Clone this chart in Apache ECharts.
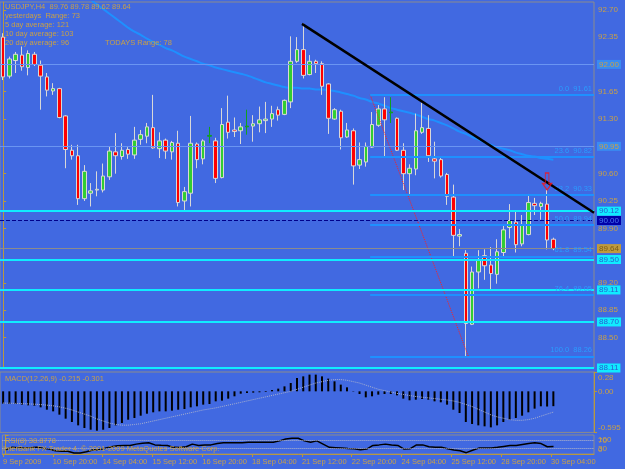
<!DOCTYPE html>
<html>
<head>
<meta charset="utf-8">
<script src="https://cdn.jsdelivr.net/npm/echarts@6.0.0/dist/echarts.min.js"></script>
<style>
  html, body { margin: 0; padding: 0; background: #4169e1; }
  #chart { width: 625px; height: 469px; }
</style>
</head>
<body>
<div id="chart"></div>
<script>
// USDJPY H4 - bar 0 = 9 Sep 2009 00:00, bar 88 = 30 Sep 04:00
const open = [92.35,91.85,92.05,92.12,91.96,92.13,91.99,91.84,91.66,91.69,
  91.34,90.90,90.83,90.28,90.35,90.39,90.39,90.56,90.88,90.82,
  90.91,90.84,91.04,91.08,91.19,90.92,91.03,90.88,90.99,90.25,
  90.35,90.98,90.79,91.08,91.02,90.55,91.26,91.16,91.15,91.20,
  91.21,91.24,91.28,91.30,91.42,91.36,91.52,92.04,92.19,91.87,
  92.04,92.01,91.75,91.30,91.40,91.07,91.15,90.71,90.75,90.94,
  91.22,91.43,91.38,91.31,90.90,90.60,90.66,91.13,91.18,90.79,
  90.78,90.59,90.30,89.80,89.58,88.67,89.34,89.55,89.43,89.31,
  89.59,89.91,89.98,89.70,89.82,90.22,90.18,90.21,89.76];
const high = [92.40,92.10,92.16,92.23,92.18,92.16,92.05,91.89,91.76,91.70,
  91.35,90.97,90.97,90.71,90.48,90.63,90.73,90.95,91.12,90.99,
  90.94,91.20,91.16,91.25,91.61,91.13,91.05,91.02,91.15,90.43,
  91.34,91.00,91.04,91.20,91.06,91.44,91.60,91.32,91.25,91.42,
  91.35,91.46,91.52,91.47,91.46,91.55,92.36,92.35,92.53,92.12,
  92.06,92.04,91.76,91.44,91.42,91.25,91.18,91.00,91.00,91.39,
  91.48,91.58,91.58,91.32,90.99,90.72,91.37,91.51,91.35,91.01,
  90.80,90.61,90.46,89.89,89.62,89.41,89.62,89.63,89.66,89.76,
  89.94,90.21,90.11,90.07,90.34,90.29,90.24,90.39,89.78];
const low = [91.80,91.82,91.89,91.92,91.86,91.98,91.42,91.59,91.61,91.31,
  90.67,90.78,90.20,90.25,90.18,90.31,90.36,90.52,90.60,90.78,
  90.79,90.79,90.97,90.99,90.92,90.80,90.79,90.78,90.18,90.12,
  90.18,90.67,90.72,90.99,90.48,90.54,91.05,91.07,90.98,91.10,
  91.01,91.13,91.12,91.20,91.28,91.35,91.44,92.02,91.82,91.86,
  91.89,91.61,91.11,91.29,90.91,91.06,90.46,90.66,90.69,90.93,
  91.20,90.82,91.25,90.89,90.39,90.34,90.58,91.11,90.75,90.54,
  90.55,90.20,89.54,89.67,88.26,88.66,89.13,89.24,89.11,89.19,
  89.54,89.77,89.59,89.67,89.81,90.07,90.01,89.63,89.62];
const close = [91.84,92.07,92.13,91.97,92.14,92.00,91.85,91.67,91.69,91.32,
  90.91,90.83,90.28,90.63,90.38,90.40,90.57,90.89,90.83,90.90,
  90.85,91.03,91.10,91.20,90.93,91.02,90.89,91.00,90.23,90.37,
  90.99,90.78,91.02,91.09,90.54,91.23,91.13,91.14,91.20,91.21,
  91.24,91.29,91.30,91.37,91.35,91.54,92.04,92.19,91.86,92.04,
  92.01,91.72,91.31,91.42,91.06,91.16,90.70,90.78,90.95,91.23,
  91.43,91.29,91.39,90.90,90.60,90.67,91.15,91.19,90.83,90.76,
  90.57,90.31,89.81,89.82,88.68,89.34,89.49,89.42,89.32,89.60,
  89.88,90.00,89.69,89.95,90.23,90.19,90.22,89.75,89.64];
// bars drawn as a bare green line in the terminal
const lineBars = [33, 39, 62];

// moving average, starts above the window at bar 13
const ma = ['-','-','-','-','-','-','-','-','-','-','-','-','-',
  92.90,92.83,92.77,92.71,92.65,92.59,92.53,92.47,92.42,92.38,
  92.33,92.29,92.25,92.21,92.18,92.14,92.10,92.07,92.04,92.01,
  91.99,91.96,91.94,91.92,91.90,91.88,91.86,91.83,91.80,91.77,
  91.75,91.73,91.71,91.70,91.70,91.69,91.69,91.68,91.68,91.67,
  91.66,91.64,91.62,91.60,91.57,91.55,91.52,91.50,91.47,91.44,
  91.42,91.40,91.38,91.36,91.33,91.30,91.28,91.25,91.22,91.18,
  91.14,91.11,91.07,91.04,91.00,90.97,90.94,90.92,90.90,90.87,
  90.85,90.83,90.82,90.80,90.79,90.78];

const macd = [-0.179,-0.184,-0.184,-0.193,-0.203,-0.208,-0.232,-0.266,-0.290,-0.338,
  -0.396,-0.444,-0.493,-0.531,-0.556,-0.570,-0.556,-0.531,-0.493,-0.459,
  -0.411,-0.386,-0.353,-0.324,-0.304,-0.290,-0.290,-0.280,-0.266,-0.256,
  -0.232,-0.217,-0.193,-0.184,-0.145,-0.135,-0.106,-0.072,-0.034,-0.024,
  -0.019,-0.014,-0.010,0.019,0.039,0.072,0.121,0.193,0.217,0.242,
  0.242,0.217,0.184,0.145,0.097,0.058,-0.005,-0.039,-0.087,-0.072,
  -0.048,-0.039,-0.039,-0.058,-0.106,-0.130,-0.121,-0.111,-0.121,-0.145,
  -0.159,-0.193,-0.266,-0.314,-0.444,-0.473,-0.493,-0.507,-0.522,-0.493,
  -0.444,-0.411,-0.386,-0.353,-0.304,-0.251,-0.217,-0.220,-0.215];
const signal = [-0.170,-0.172,-0.175,-0.178,-0.182,-0.186,-0.192,-0.200,-0.210,-0.225,
  -0.245,-0.270,-0.300,-0.330,-0.360,-0.400,-0.430,-0.460,-0.480,-0.490,
  -0.490,-0.480,-0.470,-0.450,-0.430,-0.410,-0.390,-0.370,-0.350,-0.330,
  -0.310,-0.290,-0.270,-0.255,-0.240,-0.220,-0.200,-0.180,-0.160,-0.140,
  -0.120,-0.100,-0.080,-0.060,-0.040,-0.020,0.000,0.030,0.060,0.090,
  0.120,0.140,0.160,0.170,0.170,0.160,0.140,0.120,0.090,0.060,
  0.030,0.010,-0.010,-0.030,-0.045,-0.060,-0.075,-0.085,-0.095,-0.105,
  -0.115,-0.125,-0.140,-0.160,-0.190,-0.220,-0.260,-0.300,-0.340,-0.370,
  -0.390,-0.410,-0.420,-0.420,-0.410,-0.390,-0.360,-0.330,-0.301];
const rsi = [22,35,33,31,33,35,30,26,17,15,
  14,5,5,12,21,24,30,38,43,45,
  45,52,57,59,48,46,45,35,34,38,
  52,45,47,48,55,59,59,59,59,62,
  62,62,62,62,69,79,83,83,69,62,
  69,52,35,33,31,29,28,22,26,45,
  48,52,47,45,26,28,48,48,38,36,
  35,28,21,17,7,20,31,31,31,35,
  40,45,45,50,55,59,55,38,38.9];

// price scale and levels
const priceTicks = [92.70,92.35,92.00,91.65,91.30,90.95,90.60,90.25,89.90,89.20,88.85,88.50];
const cyanLevels = [90.12, 89.50, 89.11, 88.70, 88.11];
const dayLevels = [92.00, 90.95];
const pivotLevel = 90.00;
const bidPrice = 89.64;
const fibLevels = [91.61, 90.82, 90.33, 89.94, 89.54, 89.05, 88.26];
const fibNames = ['0.0', '23.6', '38.2', '50.0', '61.8', '76.4', '100.0'];
const fibStart = 58.7;
const trendLine = [[47.8, 92.52], [94.5, 90.10]];
const fibDiagonal = [[58.7, 91.61], [74.4, 88.26]];
const arrowMark = [[87, 90.50]];
const rsiRange = [100, 0];
const rsiLevels = [70, 30];

const timeLabels = ['9 Sep 2009','10 Sep 20:00','14 Sep 04:00','15 Sep 12:00','16 Sep 20:00','18 Sep 04:00',
  '21 Sep 12:00','22 Sep 20:00','24 Sep 04:00','25 Sep 12:00','28 Sep 20:00','30 Sep 04:00'];
const timeBars = [0, 8, 16, 24, 32, 40, 48, 56, 64, 72, 80, 88];

const nSlots = 95;
const slots = Array.from({ length: nSlots }, (_, i) => i);

const gold = '#c8a048';
const axisGold = '#b8983e';
const cyan = '#10ecff';
const font = 'Liberation Sans';

const candleData = open.map((o, i) => {
  const item = { value: [o, close[i], low[i], high[i]] };
  if (lineBars.includes(i)) {
    item.itemStyle = { color: '#10a020', color0: '#10a020', borderColor: '#10a020', borderColor0: '#10a020' };
  }
  return item;
});

const chart = echarts.init(document.getElementById('chart'));

const gridBase = { left: 0, right: 31, show: true, borderColor: '#8c8c8c', borderWidth: 1 };
const rightAxis = {
  position: 'right',
  axisLine: { show: true, lineStyle: { color: axisGold, width: 1 } },
  axisTick: { show: true, length: 3, lineStyle: { color: axisGold } },
  splitLine: { show: false },
  axisLabel: { color: gold, fontSize: 8, fontFamily: font, margin: 4, hideOverlap: false }
};

chart.setOption({
  animation: false,
  backgroundColor: '#4169e1',
  grid: [
    Object.assign({ top: 2, height: 366 }, gridBase),
    Object.assign({ top: 372, height: 60.4 }, gridBase),
    Object.assign({ top: 435, height: 19 }, gridBase)
  ],
  xAxis: [
    { type: 'category', gridIndex: 0, data: slots, show: false, boundaryGap: true },
    { type: 'value', gridIndex: 0, min: -0.5, max: nSlots - 0.5, show: false },
    { type: 'category', gridIndex: 1, data: slots, show: false, boundaryGap: true },
    {
      type: 'value', gridIndex: 2, min: -0.5, max: nSlots - 0.5,
      axisLine: { show: true, lineStyle: { color: axisGold } },
      axisTick: { show: true, length: 3, lineStyle: { color: axisGold }, customValues: timeBars.map(b => b - 0.4) },
      splitLine: { show: false },
      axisLabel: {
        customValues: timeBars.map(b => b - 0.4),
        formatter: v => timeLabels[timeBars.indexOf(Math.round(v + 0.4))] || '',
        color: gold, fontSize: 7.5, fontFamily: font, align: 'left', margin: 4
      }
    }
  ],
  yAxis: [
    Object.assign({}, rightAxis, {
      type: 'value', gridIndex: 0, min: 88.11, max: 92.80, scale: true,
      axisTick: Object.assign({}, rightAxis.axisTick, { customValues: priceTicks }),
      axisLabel: Object.assign({}, rightAxis.axisLabel, { customValues: priceTicks, formatter: v => v.toFixed(2) })
    }),
    Object.assign({}, rightAxis, {
      type: 'value', gridIndex: 1, min: -0.595, max: 0.28,
      axisTick: Object.assign({}, rightAxis.axisTick, { customValues: [0.28, 0, -0.595] }),
      axisLabel: Object.assign({}, rightAxis.axisLabel, {
        customValues: [0.28, 0, -0.595],
        formatter: v => v > 0.1 ? '{t|0.28}' : (v < -0.1 ? '{b|-0.595}' : '0.00'),
        rich: {
          t: { padding: [12, 0, 0, 0], color: gold, fontSize: 8, fontFamily: font },
          b: { padding: [0, 0, 9, 0], color: gold, fontSize: 8, fontFamily: font }
        }
      })
    }),
    Object.assign({}, rightAxis, {
      type: 'value', gridIndex: 2, min: 0, max: 100,
      axisTick: Object.assign({}, rightAxis.axisTick, { customValues: rsiRange.concat(rsiLevels) }),
      axisLabel: Object.assign({}, rightAxis.axisLabel, {
        customValues: rsiRange,
        showMinLabel: true, showMaxLabel: true,
        formatter: v => v === 100 ? '{t|100}' : '{b|0}',
        rich: {
          t: { padding: [9, 0, 0, 0], color: gold, fontSize: 8, fontFamily: font },
          b: { padding: [0, 0, 8, 0], color: gold, fontSize: 8, fontFamily: font }
        }
      })
    })
  ],
  series: [
    {
      name: 'MA', type: 'line', xAxisIndex: 0, yAxisIndex: 0, data: ma,
      symbol: 'none', smooth: true, z: 2,
      lineStyle: { color: '#1e90ff', width: 2 }
    },
    {
      name: 'USDJPY', type: 'candlestick', xAxisIndex: 0, yAxisIndex: 0, data: candleData,
      barWidth: 4, z: 3,
      itemStyle: {
        color: '#32cd32', color0: '#ff0000',
        borderColor: '#d8d8d8', borderColor0: '#d8d8d8', borderColorDoji: '#d8d8d8',
        borderWidth: 1
      }
    },
    {
      name: 'levels', type: 'line', xAxisIndex: 1, yAxisIndex: 0, data: [], z: 4,
      markLine: {
        silent: true, symbol: 'none',
        label: {
          position: 'end', distance: 3, fontSize: 8, fontFamily: font,
          padding: [1, 2, 0, 2], formatter: p => p.value.toFixed(2)
        },
        data: [
          ...dayLevels.map(v => ({ yAxis: v, lineStyle: { color: '#6a95f2', width: 1, type: 'solid' },
            label: { backgroundColor: '#3a8cf2', color: gold } })),
          { yAxis: pivotLevel, lineStyle: { color: '#00008b', width: 1, type: 'dashed' },
            label: { backgroundColor: '#0000a8', color: '#4a78f0' } },
          { yAxis: bidPrice, lineStyle: { color: '#8c8c8c', width: 1, type: 'solid' },
            label: { backgroundColor: '#c09a3c', color: '#7a5c18' } },
          ...cyanLevels.map(v => ({ yAxis: v, lineStyle: { color: cyan, width: 2, type: 'solid' },
            label: { backgroundColor: cyan, color: '#2a5bd0' } }))
        ]
      }
    },
    {
      name: 'fibo', type: 'line', xAxisIndex: 1, yAxisIndex: 0, data: fibDiagonal, z: 4,
      symbol: 'none', lineStyle: { color: '#ff2020', width: 1, type: 'dotted' },
      markLine: {
        silent: true, symbol: 'none',
        lineStyle: { color: '#1e90ff', width: 2, type: 'solid' },
        label: { position: 'insideEndTop', distance: 2, formatter: '{b}', color: '#2a9cff', fontSize: 7.5, fontFamily: font },
        data: fibLevels.map((v, k) => [
          { name: fibNames[k] + '  ' + v.toFixed(2), coord: [fibStart, v] },
          { coord: [nSlots - 0.5, v] }
        ])
      }
    },
    {
      name: 'trend', type: 'line', xAxisIndex: 1, yAxisIndex: 0, data: trendLine, z: 5,
      symbol: 'none', lineStyle: { color: '#000000', width: 2.5 }
    },
    {
      name: 'arrow', type: 'scatter', xAxisIndex: 1, yAxisIndex: 0, data: arrowMark, z: 6,
      symbol: 'path://M3,0 L7,0 L7,10 L10,10 L5,16 L0,10 L3,10 Z',
      symbolSize: [9, 17],
      itemStyle: { color: 'rgba(0,0,0,0)', borderColor: '#ff1010', borderWidth: 1.2 }
    },
    {
      name: 'MACD', type: 'bar', xAxisIndex: 2, yAxisIndex: 1, data: macd,
      barWidth: 2, itemStyle: { color: '#000000' }
    },
    {
      name: 'Signal', type: 'line', xAxisIndex: 2, yAxisIndex: 1, data: signal,
      symbol: 'none', z: 3, lineStyle: { color: '#a8b0d0', width: 1, type: 'dotted' }
    },
    {
      name: 'RSI', type: 'line', xAxisIndex: 3, yAxisIndex: 2, data: rsi.map((v, i) => [i, v]),
      symbol: 'none', lineStyle: { color: '#000000', width: 1.5 },
      markLine: {
        silent: true, symbol: 'none',
        label: { show: true, position: 'end', distance: 4, color: gold, fontSize: 8, fontFamily: font, formatter: p => String(p.value) },
        lineStyle: { color: '#b8b8c8', width: 1, type: 'dotted' },
        data: rsiLevels.map(v => ({ yAxis: v }))
      }
    }
  ],
  graphic: [
    { type: 'text', left: 5, top: 3, z: 10, style: { text: 'USDJPY,H4  89.76 89.78 89.62 89.64', fill: gold, font: '7.5px "Liberation Sans"' } },
    { type: 'text', left: 5, top: 12, z: 10, style: { text: 'yesterdays  Range: 73', fill: gold, font: '7.5px "Liberation Sans"' } },
    { type: 'text', left: 5, top: 21, z: 10, style: { text: '5 day average: 121', fill: gold, font: '7.5px "Liberation Sans"' } },
    { type: 'text', left: 5, top: 30, z: 10, style: { text: '10 day average: 103', fill: gold, font: '7.5px "Liberation Sans"' } },
    { type: 'text', left: 5, top: 39, z: 10, style: { text: '20 day average: 96', fill: gold, font: '7.5px "Liberation Sans"' } },
    { type: 'text', left: 105, top: 39, z: 10, style: { text: 'TODAYS Range: 78', fill: gold, font: '7.5px "Liberation Sans"' } },
    { type: 'text', left: 5, top: 375, z: 10, style: { text: 'MACD(12,26,9) -0.215 -0.301', fill: gold, font: '7.5px "Liberation Sans"' } },
    { type: 'text', left: 5, top: 437, z: 10, style: { text: 'RSI(8) 38.8778', fill: gold, font: '7.5px "Liberation Sans"' } },
    { type: 'text', left: 3, top: 445, z: 10, style: { text: 'InterBank FX Trader 4, © 2001-2009 MetaQuotes Software Corp.', fill: gold, font: '7.5px "Liberation Sans"' } }
  ]
});
</script>
</body>
</html>
